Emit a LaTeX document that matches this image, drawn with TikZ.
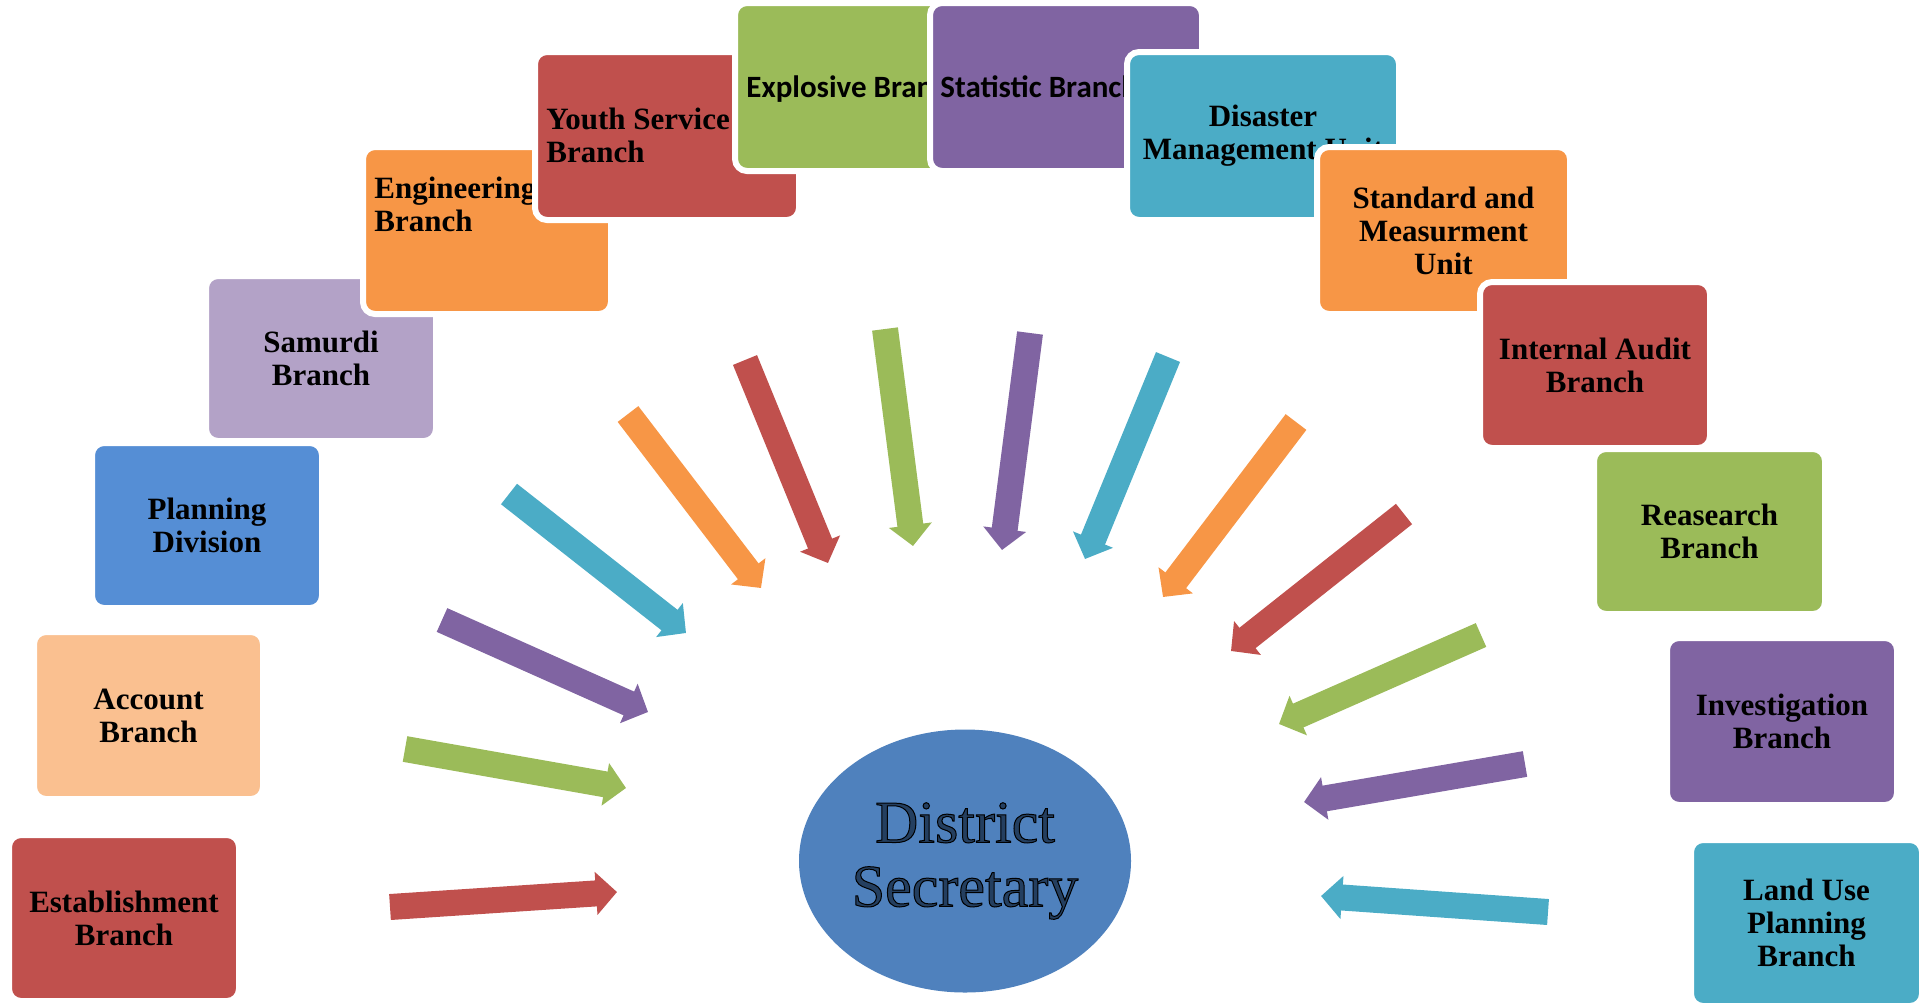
\documentclass[tikz,border=0pt]{standalone}
\usepackage{fontspec}
\setmainfont{Liberation Serif}
\newfontfamily\sansbf{Carlito}
\usetikzlibrary{arrows.meta,shapes.geometric}
\definecolor{cred}{HTML}{C0504D}
\definecolor{cgreen}{HTML}{9BBB59}
\definecolor{cpurple}{HTML}{8064A2}
\definecolor{ccyan}{HTML}{4BACC6}
\definecolor{corange}{HTML}{F79646}
\definecolor{clorange}{HTML}{FAC090}
\definecolor{cblue}{HTML}{558ED5}
\definecolor{clav}{HTML}{B3A2C7}
\definecolor{cell}{HTML}{4F81BD}
\definecolor{cdstext}{HTML}{243F60}
\tikzset{
  box/.style={rectangle, rounded corners=6pt, draw=white, line width=3pt, inner sep=0pt,
    align=center, font=\bfseries\fontsize{15.5}{16.5}\selectfont},
  txt/.style={inner sep=0pt, font=\bfseries\fontsize{15.5}{16.5}\selectfont},
  stxt/.style={inner sep=0pt, font=\sansbf\bfseries\fontsize{15.5}{16.5}\selectfont},
  fatarrow/.style={line width=13pt, -{Triangle[length=10.5pt,width=21pt]}},
}
\newcommand\bx[7]{\node[box, fill=#6, minimum width={(#4+6)*0.5pt}, minimum height={(#5+6)*0.5pt}] (#1) at (#2,#3) {#7};}
\begin{document}
\begin{tikzpicture}[x=0.5pt,y=-0.5pt]
\useasboundingbox (0,0) rectangle (1925,1002);
% boxes, drawn in stacking order
\bx{b1}{124}{918}{224}{160}{cred}{Establishment\\Branch}
\bx{b2}{148.5}{715.5}{223}{161}{clorange}{Account\\Branch}
\bx{b3}{207}{525.5}{224}{159}{cblue}{Planning\\Division}
\bx{b4}{321}{358.5}{224}{159}{clav}{Samurdi\\Branch}
\bx{b5}{487}{230.5}{242}{161}{corange}{}
\node[txt, anchor=north west, align=left] (t5) at (374,177) {Engineering\\Branch};
\bx{b6}{667}{136}{258}{162}{cred}{}
\node[txt, anchor=north west, align=left] (t6) at (546,108) {Youth Service\\Branch};
\bx{b7}{864}{87}{252}{162}{cgreen}{}
\node[stxt, anchor=base west] (t7) at (746,97) {Explosive Branch};
\bx{b8}{1066}{87}{266}{162}{cpurple}{}
\node[stxt, anchor=base west] (t8) at (940,97) {Statistic Branch};
\bx{b9}{1263}{136}{266}{162}{ccyan}{Disaster\\Management Unit}
\bx{b10}{1443.5}{230.5}{247}{161}{corange}{Standard and\\Measurment\\Unit}
\bx{b11}{1595}{365}{224}{160}{cred}{Internal Audit\\Branch}
\bx{b12}{1709.5}{531.5}{225}{159}{cgreen}{Reasearch\\Branch}
\bx{b13}{1782}{721.5}{224}{161}{cpurple}{Investigation\\Branch}
\bx{b14}{1806.5}{923}{225}{160}{ccyan}{Land Use\\Planning\\Branch}
% arrow end points
\coordinate (a1s) at (390,907);   \coordinate (a1e) at (617,892);
\coordinate (a2s) at (405,749);   \coordinate (a2e) at (626,788);
\coordinate (a3s) at (442,620);   \coordinate (a3e) at (648,712);
\coordinate (a4s) at (509,494);   \coordinate (a4e) at (686,633);
\coordinate (a5s) at (628,414);   \coordinate (a5e) at (761,588);
\coordinate (a6s) at (745,360);   \coordinate (a6e) at (828,563);
\coordinate (a7s) at (885,329);   \coordinate (a7e) at (913,546);
\coordinate (a8s) at (1030,333);  \coordinate (a8e) at (1002,550);
\coordinate (a9s) at (1168,357);  \coordinate (a9e) at (1085,559);
\coordinate (a10s) at (1296,422); \coordinate (a10e) at (1163,597);
\coordinate (a11s) at (1404,514); \coordinate (a11e) at (1231,651);
\coordinate (a12s) at (1481,635); \coordinate (a12e) at (1279,724);
\coordinate (a13s) at (1525,764); \coordinate (a13e) at (1304,802);
\coordinate (a14s) at (1548,912); \coordinate (a14e) at (1321,896);
\draw[fatarrow, cred] (a1s) -- (a1e);
\draw[fatarrow, cgreen] (a2s) -- (a2e);
\draw[fatarrow, cpurple] (a3s) -- (a3e);
\draw[fatarrow, ccyan] (a4s) -- (a4e);
\draw[fatarrow, corange] (a5s) -- (a5e);
\draw[fatarrow, cred] (a6s) -- (a6e);
\draw[fatarrow, cgreen] (a7s) -- (a7e);
\draw[fatarrow, cpurple] (a8s) -- (a8e);
\draw[fatarrow, ccyan] (a9s) -- (a9e);
\draw[fatarrow, corange] (a10s) -- (a10e);
\draw[fatarrow, cred] (a11s) -- (a11e);
\draw[fatarrow, cgreen] (a12s) -- (a12e);
\draw[fatarrow, cpurple] (a13s) -- (a13e);
\draw[fatarrow, ccyan] (a14s) -- (a14e);
% centre
\node[ellipse, fill=cell, minimum width=166pt, minimum height=131.5pt, inner sep=0pt,
  align=center, text=cdstext, font=\fontsize{30}{32}\selectfont] (ds) at (965,861)
  {\special{pdf:literal direct 0 0 0 RG 0.5 w 2 Tr}District\\Secretary\special{pdf:literal direct 0 Tr}};
\end{tikzpicture}
\end{document}
